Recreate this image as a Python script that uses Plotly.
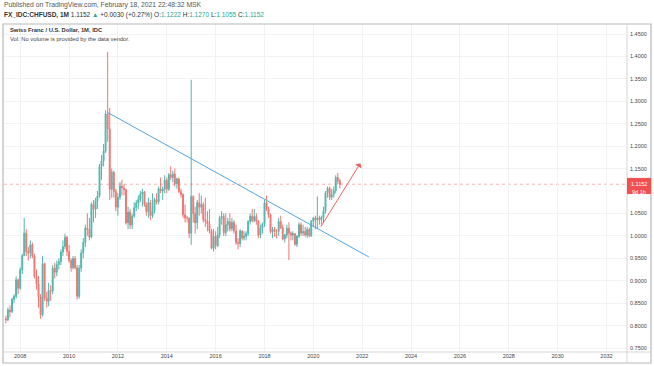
import plotly.graph_objects as go
import pandas as pd

# ---------------- data (monthly CHF/USD candles) ----------------
start_month = "2007-06-01"
first_open = 0.815

close = [
    # 2007 Jun-Dec
    0.813, 0.835, 0.831, 0.858, 0.865, 0.902, 0.883,
    # 2008
    0.924, 0.956, 1.006, 0.965, 0.962, 0.980, 0.955, 0.909, 0.893, 0.864, 0.824, 0.938,
    # 2009
    0.861, 0.854, 0.878, 0.877, 0.928, 0.919, 0.936, 0.943, 0.964, 0.976, 0.997, 0.965,
    # 2010
    0.945, 0.929, 0.949, 0.929, 0.865, 0.928, 0.962, 0.985, 1.017, 1.015, 0.997, 1.070,
    # 2011
    1.059, 1.078, 1.089, 1.155, 1.167, 1.189, 1.272, 1.238, 1.104, 1.142, 1.099, 1.064,
    # 2012
    1.086, 1.111, 1.107, 1.103, 1.029, 1.053, 1.024, 1.044, 1.063, 1.073, 1.081, 1.093,
    # 2013
    1.098, 1.070, 1.054, 1.074, 1.045, 1.057, 1.081, 1.076, 1.105, 1.100, 1.104, 1.124,
    # 2014
    1.104, 1.136, 1.130, 1.138, 1.116, 1.127, 1.099, 1.092, 1.047, 1.040, 1.040, 1.006,
    # 2015
    1.088, 1.050, 1.029, 1.074, 1.064, 1.070, 1.036, 1.033, 1.026, 1.011, 0.972, 0.999,
    # 2016
    0.978, 1.002, 1.040, 1.043, 1.007, 1.025, 1.032, 1.016, 1.030, 1.011, 0.985, 0.983,
    # 2017
    1.011, 0.995, 0.999, 1.005, 1.032, 1.044, 1.034, 1.043, 1.033, 1.002, 1.017, 1.027,
    # 2018
    1.074, 1.060, 1.047, 1.009, 1.014, 1.010, 1.010, 1.032, 1.018, 0.993, 1.002, 1.017,
    # 2019
    1.006, 1.002, 1.005, 0.981, 0.999, 1.025, 1.006, 1.010, 1.002, 1.014, 1.000, 1.033,
    # 2020
    1.040, 1.036, 1.040, 1.036, 1.041, 1.056, 1.096, 1.106, 1.086, 1.092, 1.101, 1.130,
    # 2021 Jan-Feb
    1.122, 1.1152,
]

high = [
    0.822, 0.840, 0.845, 0.862, 0.870, 0.910, 0.905,
    0.930, 0.960, 1.040, 1.015, 0.975, 0.990, 0.985, 0.960, 0.925, 0.910, 0.870, 0.955,
    0.940, 0.875, 0.895, 0.890, 0.935, 0.940, 0.945, 0.950, 0.970, 0.990, 1.005, 1.000,
    0.980, 0.950, 0.955, 0.955, 0.935, 0.935, 0.970, 0.995, 1.025, 1.050, 1.040, 1.075,
    1.080, 1.085, 1.100, 1.160, 1.180, 1.205, 1.280, 1.410, 1.285, 1.150, 1.145, 1.105,
    1.095, 1.120, 1.125, 1.115, 1.105, 1.065, 1.060, 1.050, 1.075, 1.080, 1.090, 1.100,
    1.105, 1.100, 1.075, 1.085, 1.080, 1.095, 1.085, 1.095, 1.110, 1.130, 1.110, 1.135,
    1.130, 1.140, 1.155, 1.145, 1.150, 1.130, 1.130, 1.105, 1.095, 1.070, 1.045, 1.040,
    1.348, 1.090, 1.065, 1.080, 1.095, 1.090, 1.075, 1.085, 1.055, 1.060, 1.015, 1.015,
    1.010, 1.020, 1.045, 1.055, 1.050, 1.050, 1.040, 1.050, 1.040, 1.035, 1.025, 0.995,
    1.015, 1.012, 1.010, 1.010, 1.035, 1.050, 1.060, 1.060, 1.050, 1.035, 1.025, 1.030,
    1.080, 1.090, 1.065, 1.050, 1.020, 1.020, 1.015, 1.040, 1.045, 1.025, 1.005, 1.025,
    1.030, 1.010, 1.010, 1.005, 1.002, 1.030, 1.030, 1.025, 1.020, 1.020, 1.018, 1.035,
    1.042, 1.045, 1.088, 1.045, 1.045, 1.065, 1.100, 1.110, 1.110, 1.105, 1.110, 1.135,
    1.140, 1.127,
]

low = [
    0.805, 0.810, 0.818, 0.828, 0.850, 0.860, 0.870,
    0.880, 0.915, 0.955, 0.955, 0.945, 0.950, 0.950, 0.905, 0.880, 0.840, 0.815, 0.820,
    0.855, 0.840, 0.843, 0.855, 0.870, 0.905, 0.910, 0.925, 0.935, 0.955, 0.970, 0.955,
    0.940, 0.920, 0.925, 0.925, 0.858, 0.860, 0.920, 0.950, 0.975, 1.000, 0.990, 0.995,
    1.030, 1.040, 1.060, 1.085, 1.125, 1.155, 1.185, 1.210, 1.080, 1.085, 1.085, 1.055,
    1.045, 1.080, 1.090, 1.090, 1.025, 1.015, 1.015, 1.015, 1.040, 1.055, 1.060, 1.075,
    1.065, 1.065, 1.045, 1.040, 1.035, 1.040, 1.050, 1.070, 1.070, 1.095, 1.080, 1.095,
    1.095, 1.100, 1.125, 1.120, 1.110, 1.105, 1.095, 1.085, 1.040, 1.030, 1.030, 0.995,
    0.980, 1.030, 1.005, 1.015, 1.045, 1.050, 1.030, 1.020, 1.010, 1.005, 0.970, 0.965,
    0.970, 0.975, 0.995, 1.025, 1.000, 1.000, 1.010, 1.010, 1.010, 1.005, 0.980, 0.970,
    0.975, 0.990, 0.990, 0.990, 1.000, 1.025, 1.030, 1.030, 1.025, 0.995, 0.995, 1.005,
    1.020, 1.055, 1.040, 1.005, 0.995, 0.998, 0.995, 1.000, 1.015, 0.990, 0.985, 0.995,
    0.946, 0.990, 0.990, 0.978, 0.975, 0.995, 1.000, 1.000, 0.998, 0.995, 0.997, 0.998,
    1.020, 1.015, 1.015, 1.025, 1.025, 1.030, 1.050, 1.085, 1.080, 1.080, 1.085, 1.095,
    1.115, 1.1055,
]

last_open = 1.1222

# drawings
trend_x = ["2011-08-01", "2022-04-10"]
trend_y = [1.275, 0.953]
arrow_tail = ("2020-04-08", 1.017)
arrow_head = ("2021-12-05", 1.162)

price_ticks = [1.45, 1.40, 1.35, 1.30, 1.25, 1.20, 1.15, 1.05, 1.00, 0.95, 0.90, 0.85, 0.80, 0.75]
year_ticks = list(range(2008, 2033, 2))

header1 = "Published on TradingView.com, February 18, 2021 22:48:32 MSK"
symbol = "FX_IDC:CHFUSD, 1M"
chart_title = "Swiss Franc / U.S. Dollar, 1M, IDC"
vol_note = "Vol: No volume is provided by the data vendor."
countdown = "9d 1h"

# ---------------- build ----------------
dates = pd.date_range(start_month, periods=len(close), freq="MS")
opens = [first_open] + close[:-1]
opens[-1] = last_open

UP = "#26a69a"
DN = "#ef5350"
FONT = "Liberation Sans, Arial, sans-serif"

fig = go.Figure()
fig.add_trace(go.Candlestick(
    x=dates, open=opens, high=high, low=low, close=close,
    increasing=dict(line=dict(color=UP, width=1), fillcolor=UP),
    decreasing=dict(line=dict(color=DN, width=1), fillcolor=DN),
    whiskerwidth=0, opacity=0.8, showlegend=False, hoverinfo="skip",
))
fig.add_trace(go.Scatter(
    x=trend_x, y=trend_y, mode="lines",
    line=dict(color="#52a6de", width=1), showlegend=False, hoverinfo="skip",
))

last = close[-1]
fig.add_shape(type="line", xref="paper", x0=0, x1=1, yref="y", y0=last, y1=last,
              line=dict(color="rgba(239,83,80,0.45)", width=1, dash="dot"), layer="below")

fig.add_annotation(x=arrow_head[0], y=arrow_head[1], ax=arrow_tail[0], ay=arrow_tail[1],
                   xref="x", yref="y", axref="x", ayref="y", text="", showarrow=True,
                   arrowhead=1, arrowsize=1.3, arrowwidth=1, arrowcolor="#f06060")

# frame lines
frame = "#b8b8b8"
fig.add_shape(type="rect", xref="paper", yref="paper", x0=-0.0016, x1=1.0385, y0=-0.0335, y1=1.0,
              line=dict(color=frame, width=1.2), layer="above")
fig.add_shape(type="line", xref="paper", yref="paper", x0=1.0, x1=1.0, y0=-0.0335, y1=1.0,
              line=dict(color="#d6d6d6", width=1))
fig.add_shape(type="line", xref="paper", yref="paper", x0=-0.0016, x1=1.0385, y0=0, y1=0,
              line=dict(color="#d6d6d6", width=1))

# price label box
fig.add_shape(type="rect", xref="paper", yref="y", x0=1.0, x1=1.0385, y0=last - 0.022, y1=last + 0.014,
              line=dict(width=0), fillcolor="#f05050", layer="above")
fig.add_annotation(xref="paper", yref="y", x=1.0193, y=last, text=f"{last:.4f}",
                   showarrow=False, font=dict(family=FONT, size=5.5, color="white"),
                   xanchor="center", yanchor="middle")
fig.add_annotation(xref="paper", yref="y", x=1.0193, y=last, yshift=-8, text=countdown,
                   showarrow=False, font=dict(family=FONT, size=5.5, color="white"),
                   xanchor="center", yanchor="middle")

# header
fig.add_annotation(xref="paper", yref="paper", x=-0.004, y=1.058, text=header1, showarrow=False,
                   xanchor="left", yanchor="middle", font=dict(family=FONT, size=6.8, color="#555"))
line2 = (f"<b>{symbol}</b> {last:.4f} <span style='color:{UP}'>▲</span> +0.0030 (+0.27%) "
         f"O:<span style='color:{UP}'>{last_open:.4f}</span> H:<span style='color:{UP}'>{high[-1]:.4f}</span> "
         f"L:<span style='color:{UP}'>{low[-1]:.4f}</span> C:<span style='color:{UP}'>{last:.4f}</span>")
fig.add_annotation(xref="paper", yref="paper", x=-0.004, y=1.027, text=line2, showarrow=False,
                   xanchor="left", yanchor="middle", font=dict(family=FONT, size=6.5, color="#333"))
fig.add_annotation(xref="paper", yref="paper", x=0.0064, y=0.982, text=f"<b>{chart_title}</b>",
                   showarrow=False, xanchor="left", yanchor="middle",
                   font=dict(family=FONT, size=5.8, color="#333"))
fig.add_annotation(xref="paper", yref="paper", x=0.0064, y=0.955, text=vol_note,
                   showarrow=False, xanchor="left", yanchor="middle",
                   font=dict(family=FONT, size=5.8, color="#444"))

fig.update_layout(
    width=654, height=366,
    margin=dict(l=4, r=27, t=24, b=14, autoexpand=False),
    paper_bgcolor="white", plot_bgcolor="white",
    font=dict(family=FONT, size=5.5, color="#444"),
    xaxis=dict(
        type="date", range=["2007-05-04", "2032-11-03"], automargin=False,
        tickvals=[f"{y}-01-01" for y in year_ticks], ticktext=[str(y) for y in year_ticks],
        showgrid=True, gridcolor="#f0f2f6", gridwidth=1, zeroline=False,
        rangeslider=dict(visible=False), showline=False, ticks="",
        tickfont=dict(size=5.5, color="#444"), ticklabelstandoff=-1,
    ),
    yaxis=dict(
        side="right", range=[0.7411, 1.4723], automargin=False,
        tickvals=price_ticks, ticktext=[f"{v:.4f}" for v in price_ticks],
        showgrid=True, gridcolor="#f0f2f6", gridwidth=1, zeroline=False,
        showline=False, ticks="", tickfont=dict(size=5.5, color="#444"), ticklabelstandoff=2,
    ),
)

fig.write_html(
    "out.html",
    config={"displayModeBar": False},
    post_script="document.body.style.margin='0';document.body.style.overflow='hidden';",
)
